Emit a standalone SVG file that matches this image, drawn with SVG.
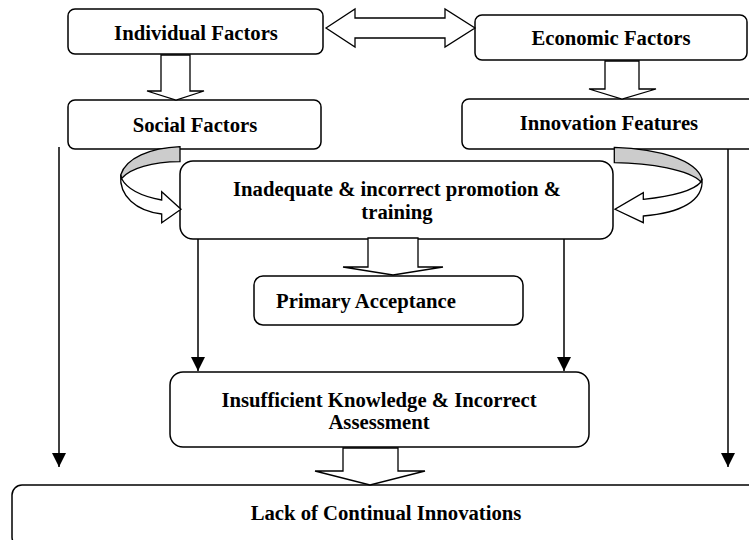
<svg xmlns="http://www.w3.org/2000/svg" width="749" height="540" viewBox="0 0 749 540">
  <style>
    .box { fill: #ffffff; stroke: #000000; stroke-width: 1.5; }
    .lbl { font-family: "Liberation Serif", "Times New Roman", serif; font-weight: bold; font-size: 20.7px; fill: #000000; text-anchor: middle; }
    .blk { fill: #ffffff; stroke: #000000; stroke-width: 1.3; stroke-linejoin: miter; }
    .band { fill: #cccccc; stroke: #000000; stroke-width: 1.3; }
    .wire { fill: none; stroke: #000000; stroke-width: 1.5; }
  </style>
  <defs>
    <marker id="tri" viewBox="0 0 14 14" refX="14" refY="7" markerWidth="14" markerHeight="14" markerUnits="userSpaceOnUse" orient="auto">
      <path d="M0,0 L14,7 L0,14 Z" fill="#000000"/>
    </marker>
  </defs>
  <rect width="749" height="540" fill="#ffffff"/>

  <!-- thin connectors -->
  <g id="connectors">
    <line class="wire" x1="59" y1="147" x2="59" y2="467" marker-end="url(#tri)"/>
    <line class="wire" x1="728" y1="147" x2="728" y2="467" marker-end="url(#tri)"/>
    <line class="wire" x1="198" y1="239" x2="198" y2="371" marker-end="url(#tri)"/>
    <line class="wire" x1="564" y1="239" x2="564" y2="371" marker-end="url(#tri)"/>
  </g>

  <!-- nodes -->
  <g id="individual">
    <rect class="box" x="68" y="9" width="255" height="45" rx="7"/>
    <text class="lbl" x="196" y="40">Individual Factors</text>
  </g>
  <g id="economic">
    <rect class="box" x="475" y="15" width="272" height="45" rx="7"/>
    <text class="lbl" x="611" y="45">Economic Factors</text>
  </g>
  <g id="social">
    <rect class="box" x="68" y="100" width="253" height="49" rx="7"/>
    <text class="lbl" x="195" y="132">Social Factors</text>
  </g>
  <g id="innovation">
    <rect class="box" x="462" y="99" width="300" height="50" rx="7"/>
    <text class="lbl" x="609" y="130">Innovation Features</text>
  </g>
  <g id="promotion">
    <rect class="box" x="180" y="161" width="433" height="78" rx="13"/>
    <text class="lbl" x="397" y="196">Inadequate &amp; incorrect promotion &amp;</text>
    <text class="lbl" x="397" y="219">training</text>
  </g>
  <g id="primary">
    <rect class="box" x="254" y="276" width="269" height="49" rx="9"/>
    <text class="lbl" x="366" y="308">Primary Acceptance</text>
  </g>
  <g id="knowledge">
    <rect class="box" x="170" y="372" width="419" height="75" rx="13"/>
    <text class="lbl" x="379" y="407">Insufficient Knowledge &amp; Incorrect</text>
    <text class="lbl" x="379" y="429">Assessment</text>
  </g>
  <g id="lack">
    <rect class="box" x="12" y="485" width="760" height="62" rx="10"/>
    <text class="lbl" x="386" y="520">Lack of Continual Innovations</text>
  </g>

  <!-- block arrows -->
  <g id="block-arrows">
    <path class="blk" d="M326,28 L355,9 L355,18 L445,18 L445,9 L475,28 L445,47 L445,38 L355,38 L355,47 Z"/>
    <path class="blk" d="M161,55 L190,55 L190,91 L204,91 L176,100 L147,91 L161,91 Z"/>
    <path class="blk" d="M605,61 L639,61 L639,89 L656,89 L622,99 L589,89 L605,89 Z"/>
    <path class="blk" d="M368,238 L418,238 L418,267 L443,267 L393,275 L343,267 L368,267 Z"/>
    <path class="blk" d="M343,448 L398,448 L398,471 L425,471 L370,485 L315,471 L343,471 Z"/>
  </g>

  <!-- curved arrows -->
  <g id="curved-left">
    <path class="band" d="M180,146.7 C150,148 126,158 120.7,175 L121.5,178.5 C130,168 152,162 180,161.7 Z"/>
    <path class="blk" d="M120.7,175 C119,196 136,211 161.7,214 L161.7,222.7 L181,209.3 L161.7,191.7 L161.7,200 C140,196 127,189 121.5,178.5 Z"/>
  </g>
  <g id="curved-right">
    <path class="band" d="M614.3,147.3 C660,149 696,160 702,179 L701,182 C690,170 650,163 614.3,162.7 Z"/>
    <path class="blk" d="M702,179 C704,201 680,213 643.3,216 L643.3,222.7 L615,209.3 L643.3,192.7 L643.3,199.3 C675,196 694,190 701,182 Z"/>
  </g>
</svg>
